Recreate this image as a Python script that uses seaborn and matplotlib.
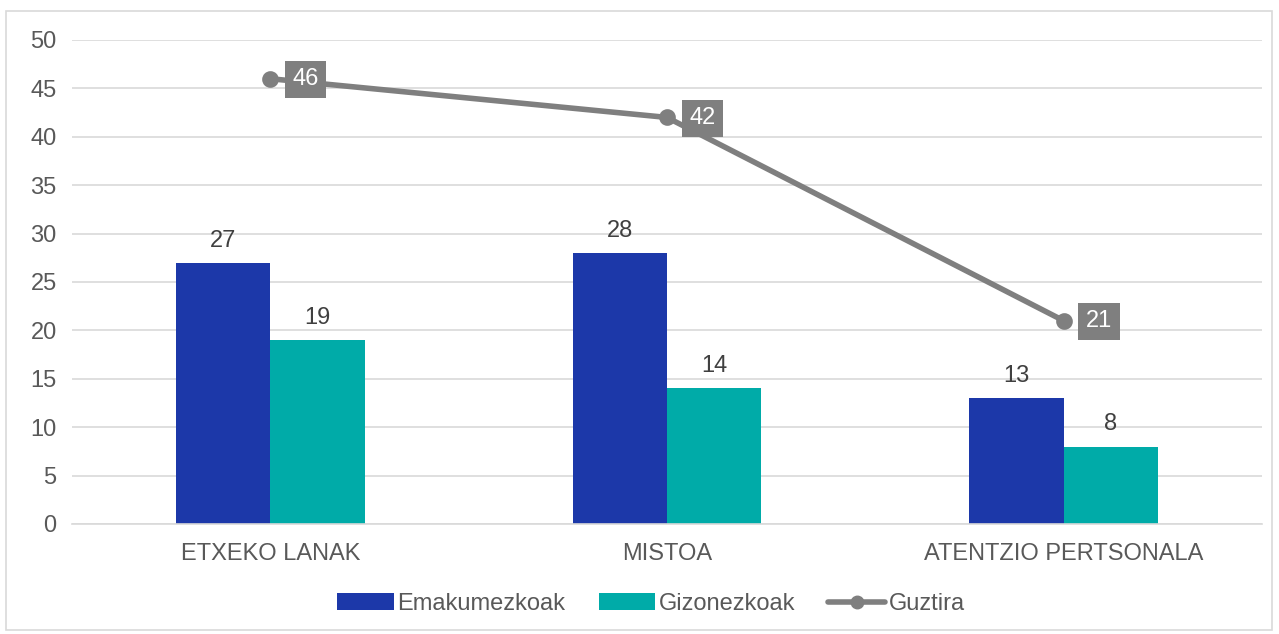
import matplotlib
matplotlib.use("Agg")
import matplotlib.pyplot as plt
import seaborn as sns
import pandas as pd
from matplotlib.patches import Rectangle
from matplotlib.lines import Line2D
from matplotlib.patches import Patch

categories = ["ETXEKO LANAK", "MISTOA", "ATENTZIO PERTSONALA"]
emakumezkoak = [27, 28, 13]
gizonezkoak = [19, 14, 8]
guztira = [46, 42, 21]
series_names = ["Emakumezkoak", "Gizonezkoak", "Guztira"]
yticks = list(range(0, 51, 5))

C_EMA = "#1C38A9"
C_GIZ = "#00ABA8"
C_TOT = "#7F7F7F"
TXT = "#595959"

sns.set_theme(style="white")
plt.rcParams["font.family"] = ["Liberation Sans", "DejaVu Sans"]

df = pd.DataFrame({
    "cat": categories * 2,
    "val": emakumezkoak + gizonezkoak,
    "ser": [series_names[0]] * 3 + [series_names[1]] * 3,
})

fig = plt.figure(figsize=(12.79, 6.34), dpi=100)
ax = fig.add_axes([72 / 1279, 1 - 524 / 634, (1262 - 72) / 1279, (524 - 40) / 634])

sns.barplot(data=df, x="cat", y="val", hue="ser", order=categories,
            hue_order=series_names[:2], palette=[C_EMA, C_GIZ],
            width=0.475, gap=0, saturation=1, legend=False, ax=ax, zorder=2,
            linewidth=0, edgecolor="none")

for cont in ax.containers:
    ax.bar_label(cont, padding=8, fontsize=17, color="#404040")

sns.pointplot(x=categories, y=guztira, order=categories, color=C_TOT,
              markers="o", linewidth=4, markersize=9, ax=ax, zorder=4)

for i, v in enumerate(guztira):
    ax.annotate(str(v), xy=(i, v), xytext=(25.5, -0.5), textcoords="offset points",
                ha="center", va="center", fontsize=17, color="white", zorder=5,
                bbox=dict(boxstyle="square,pad=0.32", fc=C_TOT, ec="none"))

ax.set_xlim(-0.5, 2.5)
ax.set_ylim(0, 50)
ax.set_yticks(yticks)
ax.set_yticklabels([str(t) for t in yticks])
ax.yaxis.grid(True, color="#D9D9D9", linewidth=1.2)
ax.set_axisbelow(True)
for s in ["left", "right", "top"]:
    ax.spines[s].set_visible(False)
ax.spines["bottom"].set_color("#D9D9D9")
ax.spines["bottom"].set_linewidth(1.2)
ax.tick_params(axis="y", length=0, pad=11, labelsize=17, labelcolor=TXT)
ax.tick_params(axis="x", length=0, pad=14, labelsize=17, labelcolor=TXT)
ax.set_xlabel("")
ax.set_ylabel("")

handles = [
    Patch(facecolor=C_EMA, edgecolor="none"),
    Patch(facecolor=C_GIZ, edgecolor="none"),
    Line2D([0], [0], color=C_TOT, linewidth=4, marker="o", markersize=9),
]
fig.legend(handles, series_names, loc="center", bbox_to_anchor=(651 / 1279, 1 - 604 / 634),
           ncol=3, frameon=False, fontsize=17, labelcolor=TXT, handlelength=2.4,
           handleheight=0.75, handletextpad=0.15, columnspacing=1.4)

fig.add_artist(Rectangle((6 / 1279, 4 / 634), 1266 / 1279, 619 / 634,
                         transform=fig.transFigure, fill=False, ec="#D9D9D9", lw=1.2))

fig.savefig("out.png", dpi=100)
